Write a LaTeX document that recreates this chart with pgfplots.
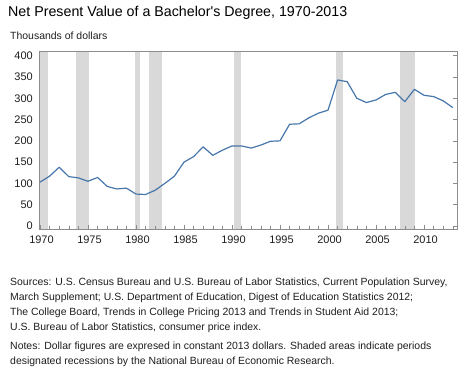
\documentclass[border=0pt]{standalone}
\usepackage{pgfplots}
\pgfplotsset{compat=1.18}
\usepackage{fontspec}
\setmainfont{Liberation Sans}
\newfontfamily\titlefont{Liberation Sans}[Ligatures=TeXOff]
\definecolor{lineblue}{RGB}{70,118,170}
\definecolor{band}{RGB}{217,217,217}
\definecolor{axgray}{RGB}{140,140,140}
\definecolor{txt}{RGB}{30,30,30}
\pgfplotstableread{
year value
1970 103
1971 117
1972 138
1973 116
1974 113
1975 105
1976 114
1977 93
1978 87
1979 89
1980 75
1981 74
1982 84
1983 100
1984 117
1985 150
1986 163
1987 186
1988 166
1989 178
1990 188
1991 188
1992 183
1993 190
1994 199
1995 200
1996 239
1997 240
1998 254
1999 265
2000 272
2001 343
2002 339
2003 300
2004 290
2005 296
2006 309
2007 314
2008 292
2009 321
2010 307
2011 304
2012 294
2013 278
}\npv
\begin{document}
\begin{tikzpicture}[x=1bp,y=1bp]
\path (0,0) rectangle (466,368);
\node[anchor=base west,font=\titlefont\fontsize{14.3}{16}\selectfont,inner sep=0,text=black] at (8,368-16.7) {Net Present Value of a Bachelor's Degree, 1970-2013};
\node[anchor=base west,font=\fontsize{10.5}{12}\selectfont,inner sep=0,text=txt] at (10,368-39.3) {Thousands of dollars};
\begin{axis}[
  at={(39.3bp,139bp)}, anchor=south west,
  scale only axis, width=418.4bp, height=177.3bp,
  xmin=1969.93, xmax=2013.51, ymin=-7.05, ymax=409.4,
  axis on top,
  axis line style={axgray, line width=0.6pt},
  xtick={1970,1975,...,2010}, minor xtick={1970,...,2013},
  xtick pos=bottom, tick align=inside,
  ytick={0,50,...,400},
  ytick pos=right, yticklabel pos=left,
  major tick length=4.5bp, minor tick length=3.5bp,
  tick style={axgray, line width=0.5pt},
  x tick label style={/pgf/number format/1000 sep={}, font=\fontsize{11}{13}\selectfont, text=txt, yshift=-3bp, xshift=1.5bp},
  y tick label style={font=\fontsize{11}{13}\selectfont, text=txt, xshift=-3bp},
  /pgf/number format/assume math mode=true,
  /pgf/number format/1000 sep={},
  clip=true,
]
\addplot[fill=band, draw=none] coordinates {(1969.93,-10) (1969.93,420) (1970.86,420) (1970.86,-10)} -- cycle;
\addplot[fill=band, draw=none] coordinates {(1973.75,-10) (1973.75,420) (1975.14,420) (1975.14,-10)} -- cycle;
\addplot[fill=band, draw=none] coordinates {(1979.86,-10) (1979.86,420) (1980.45,420) (1980.45,-10)} -- cycle;
\addplot[fill=band, draw=none] coordinates {(1981.35,-10) (1981.35,420) (1982.74,420) (1982.74,-10)} -- cycle;
\addplot[fill=band, draw=none] coordinates {(1990.21,-10) (1990.21,420) (1990.97,420) (1990.97,-10)} -- cycle;
\addplot[fill=band, draw=none] coordinates {(2000.80,-10) (2000.80,420) (2001.53,420) (2001.53,-10)} -- cycle;
\addplot[fill=band, draw=none] coordinates {(2007.47,-10) (2007.47,420) (2009.03,420) (2009.03,-10)} -- cycle;
\addplot[lineblue, line width=1.2pt, mark=none, line join=round] table[x=year,y=value] {\npv};
\end{axis}
\begin{scope}[every node/.style={anchor=base west,inner sep=0,text=txt,font=\fontsize{10.5}{12}\selectfont}]
\node at (10,368-285.5) {Sources: U.S. Census Bureau and U.S. Bureau of Labor Statistics, Current Population Survey,};
\node at (10,368-300.5) {March Supplement; U.S. Department of Education, Digest of Education Statistics 2012;};
\node at (10,368-315.5) {The College Board, Trends in College Pricing 2013 and Trends in Student Aid 2013;};
\node at (10,368-330.5) {U.S. Bureau of Labor Statistics, consumer price index.};
\node at (10,368-349) {Notes: Dollar figures are expresed in constant 2013 dollars. Shaded areas indicate periods};
\node at (10,368-364) {designated recessions by the National Bureau of Economic Research.};
\end{scope}
\end{tikzpicture}
\end{document}
